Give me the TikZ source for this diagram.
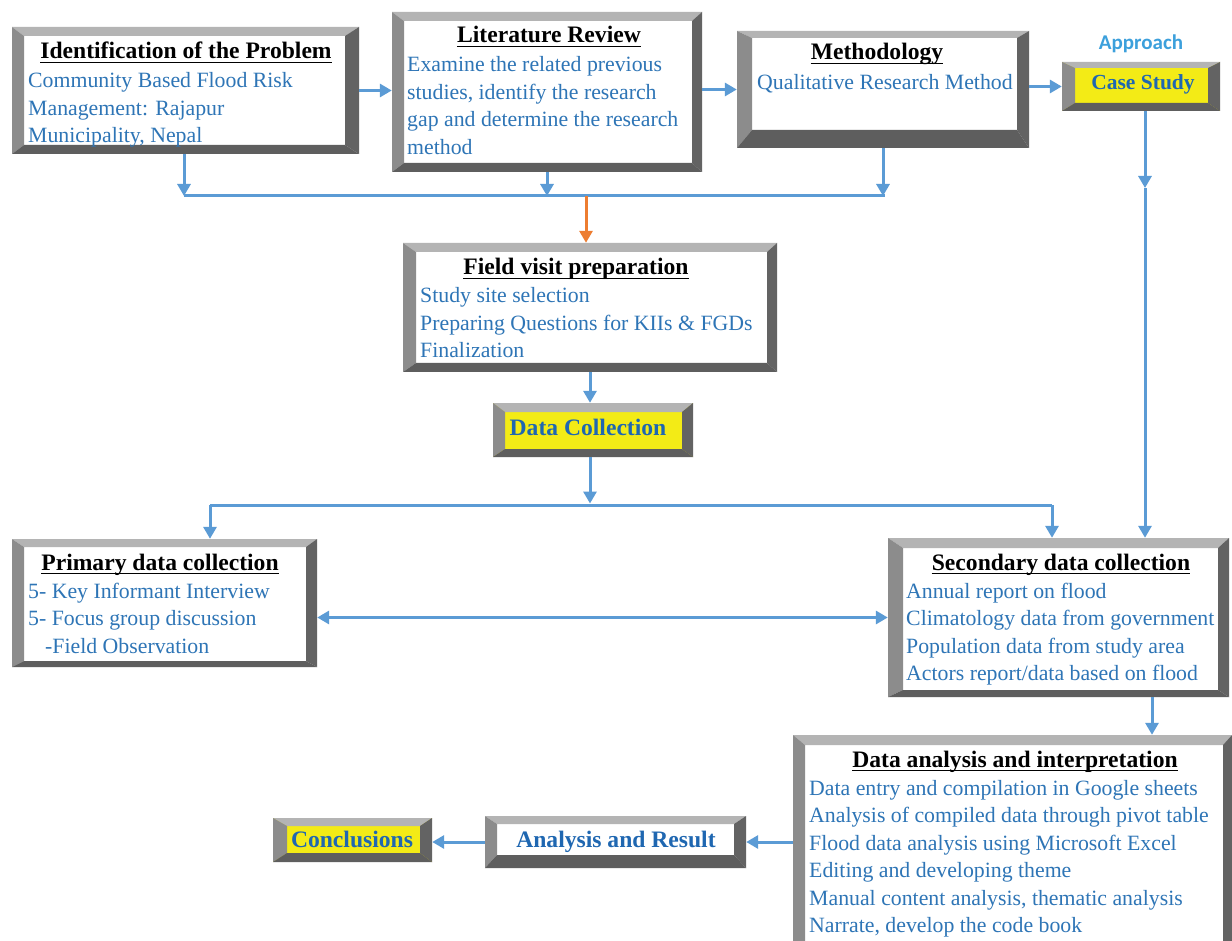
\documentclass[tikz,border=0pt]{standalone}
\usepackage{fontspec}
\setmainfont{Liberation Serif}
\newfontfamily\apfont{Carlito}
\usetikzlibrary{arrows.meta,calc}
\definecolor{btopc}{HTML}{B4B4B4}
\definecolor{bleftc}{HTML}{8C8C8C}
\definecolor{brightc}{HTML}{636363}
\definecolor{bbotc}{HTML}{5E5E5E}
\definecolor{bodyblue}{HTML}{2E75B6}
\definecolor{boldblue}{HTML}{1F67B1}
\definecolor{connblue}{HTML}{5B9BD5}
\definecolor{connorange}{HTML}{ED7D31}
\definecolor{boxyellow}{HTML}{F3EB16}
\definecolor{apblue}{HTML}{3CA0DC}
\tikzset{
  outerbox/.style={rectangle, inner sep=0pt, draw=none, fill=\boxfill},
  titletxt/.style={font=\fontsize{23.6}{28}\selectfont\bfseries, text=black, inner sep=0pt, anchor=base},
  bodytxt/.style={font=\fontsize{21.8}{27.5}\selectfont, text=bodyblue, inner sep=0pt, anchor=base west},
  labeltxt/.style={font=\fontsize{23.6}{28}\selectfont\bfseries, text=boldblue, inner sep=0pt, anchor=base},
  uline/.style={draw=black, line width=1.8pt},
  conn/.style={draw=connblue, line width=3pt},
  arr/.style={conn, -{Triangle[width=13pt,length=12pt]}},
  darr/.style={conn, {Triangle[width=13pt,length=12pt]}-{Triangle[width=13pt,length=12pt]}},
  oarr/.style={draw=connorange, line width=3pt, -{Triangle[width=13pt,length=12pt]}}
}
\def\boxfill{white}
% name, x1, y1, x2, y2, left, top, right, bottom bevel
\newcommand\bevbox[9]{%
  \node[outerbox, minimum width={(#4-#2)*1pt}, minimum height={(#5-#3)*1pt}] (#1) at ({(#2+#4)/2},{(#3+#5)/2}) {};
  \fill[btopc] (#2,#3) -- (#4,#3) -- ({#4-#8},{#3+#7}) -- ({#2+#6},{#3+#7}) -- cycle;
  \fill[bleftc] (#2,#3) -- ({#2+#6},{#3+#7}) -- ({#2+#6},{#5-#9}) -- (#2,#5) -- cycle;
  \fill[brightc] (#4,#3) -- (#4,#5) -- ({#4-#8},{#5-#9}) -- ({#4-#8},{#3+#7}) -- cycle;
  \fill[bbotc] (#2,#5) -- (#4,#5) -- ({#4-#8},{#5-#9}) -- ({#2+#6},{#5-#9}) -- cycle;
}
\newcommand\lines[1]{\parbox[t]{430pt}{\raggedright #1}}
\newcommand\ulnode[1]{\draw[uline] ($(#1.base west)+(0,3.5)$) -- ($(#1.base east)+(0,3.5)$);}
\begin{document}
\begin{tikzpicture}[x=1pt,y=-1pt]
\useasboundingbox (0,0) rectangle (1232,941);
\fill[white] (0,0) rectangle (1232,941);
\clip (0,0) rectangle (1232,941);

% boxes
\bevbox{ident}{12}{27}{359}{154}{12}{9}{14}{9}
\bevbox{lit}{392}{12}{702}{172}{12}{9}{10}{9}
\bevbox{meth}{737}{31}{1029}{148}{15}{7}{12}{18}
\bevbox{field}{403}{243}{777}{372}{13}{9}{10}{9}
\bevbox{prim}{12}{539}{317}{667}{12}{8}{11}{6}
\bevbox{sec}{888}{538}{1229}{697}{15}{10}{11}{7}
\bevbox{da}{793}{735}{1232}{952}{12}{10}{9}{9}
\bevbox{ar}{485}{816}{746}{868}{12}{8}{12}{13}
\def\boxfill{boxyellow}
\bevbox{case}{1062}{62}{1220}{111}{13}{6}{12}{8}
\bevbox{dc}{493}{403}{693}{457}{12}{9}{11}{8}
\bevbox{conc}{273}{818}{432}{862}{14}{8}{12}{9}

% texts
\node[titletxt] (identT) at (186,59) {Identification of the Problem};
\ulnode{identT}
\node[bodytxt] (identB) at (28,88) {\lines{Community Based Flood Risk\\Management: Rajapur\\Municipality, Nepal}};

\node[titletxt] (litT) at (549,43) {Literature Review};
\ulnode{litT}
\node[bodytxt] (litB) at (407,72) {\lines{Examine the related previous\\studies, identify the research\\gap and determine the research\\method}};

\node[titletxt] (methT) at (877,60) {Methodology};
\ulnode{methT}
\node[bodytxt] (methB) at (757,90) {\lines{Qualitative Research Method}};

\node[titletxt] (fieldT) at (576,275) {Field visit preparation};
\ulnode{fieldT}
\node[bodytxt] (fieldB) at (420,303) {\lines{Study site selection\\Preparing Questions for KIIs \& FGDs\\Finalization}};

\node[titletxt] (primT) at (160,570) {Primary data collection};
\ulnode{primT}
\node[bodytxt] (primB) at (28,598) {\lines{5- Key Informant Interview\\5- Focus group discussion\\\hspace*{17pt}-Field Observation}};

\node[titletxt] (secT) at (1061,570) {Secondary data collection};
\ulnode{secT}
\node[bodytxt] (secB) at (906,598) {\lines{Annual report on flood\\Climatology data from government\\Population data from study area\\Actors report/data based on flood}};

\node[titletxt] (daT) at (1015,767) {Data analysis and interpretation};
\ulnode{daT}
\node[bodytxt] (daB) at (809,795) {\lines{Data entry and compilation in Google sheets\\Analysis of compiled data through pivot table\\Flood data analysis using Microsoft Excel\\Editing and developing theme\\Manual content analysis, thematic analysis\\Narrate, develop the code book}};

\node[labeltxt, font=\fontsize{21.5}{26}\selectfont\bfseries] (caseT) at (1143,90) {Case Study};
\node[labeltxt] (dcT) at (588,435) {Data Collection};
\node[labeltxt] (arT) at (616,847) {Analysis and Result};
\node[labeltxt] (concT) at (352,847) {Conclusions};

\node[font=\apfont\fontsize{21}{25}\selectfont\bfseries, text=apblue, inner sep=0pt, anchor=base] (appr) at (1141,50) {Approach};

% connectors
\coordinate (busL) at (184,196);
\coordinate (busR) at (885,196);
\coordinate (busO) at (586,196);
\coordinate (b2L) at (210,505);
\coordinate (b2R) at (1052,505);
\coordinate (cm) at (1145,188);
\coordinate (sdx) at (1152,0);

\draw[arr] (ident.east) -- (ident.east -| lit.west);
\draw[arr] (meth.west -| lit.east) -- (meth.west);
\draw[arr] (case.west -| meth.east) -- (case.west);

\draw[arr] (ident.south -| busL) -- (busL);
\draw[arr] (lit.south) -- (lit.south |- busL);
\draw[arr] (meth.south) -- (meth.south |- busL);
\draw[conn] (busL) -- (busR);
\draw[oarr] (busO) -- (busO |- field.north);

\draw[arr] (field.south) -- (field.south |- dc.north);
\draw[arr] (dc.south -| field.south) -- ($(field.south |- b2L)+(0,-1.5)$);
\draw[conn] (b2L) -- (b2R);
\draw[arr] (b2L) -- (b2L |- prim.north);
\draw[arr] (b2R) -- (b2R |- sec.north);

\draw[arr] (case.south -| cm) -- (cm);
\draw[arr] (cm) -- (cm |- sec.north);

\draw[darr] (prim.east |- sec.west) -- (sec.west);
\draw[arr] (sec.south -| sdx) -- (da.north -| sdx);
\draw[arr] (da.west |- ar.east) -- (ar.east);
\draw[arr] (ar.west) -- (ar.west -| conc.east);
\end{tikzpicture}
\end{document}
